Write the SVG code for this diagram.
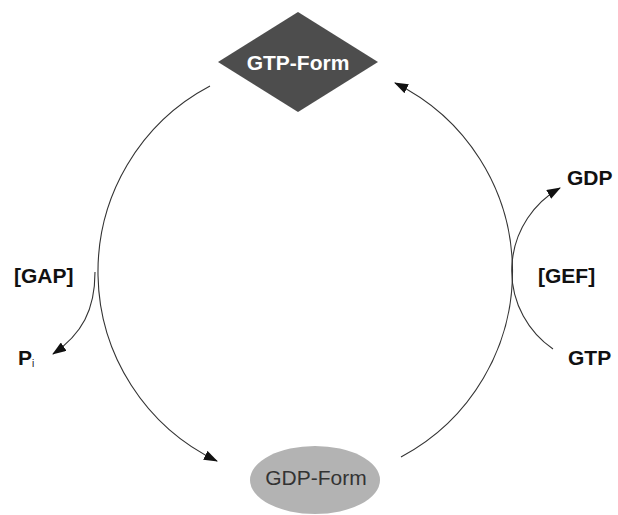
<svg xmlns="http://www.w3.org/2000/svg" width="618" height="515" viewBox="0 0 618 515">
<style>
.lbl{font-family:"Liberation Sans",Arial,sans-serif;font-weight:bold;font-size:21px;fill:#111}
.conn{fill:none;stroke:#333;stroke-width:1.1}
</style>
<defs>
<marker id="ah" viewBox="0 0 14 10" refX="13" refY="5" markerWidth="14" markerHeight="10" markerUnits="userSpaceOnUse" orient="auto">
<path d="M0,0 L14,5 L0,10 Z" fill="#111"/>
</marker>
</defs>
<rect width="618" height="515" fill="#fff"/>
<g id="connectors">
<path class="conn" d="M210,86 A210,210 0 0 0 217,461" marker-end="url(#ah)"/>
<path class="conn" d="M401,457 A210,210 0 0 0 395,83" marker-end="url(#ah)"/>
<path class="conn" d="M95,272 C95,310 82,334 53,354" marker-end="url(#ah)"/>
<path class="conn" d="M553,349 A95,95 0 0 1 560,188" marker-end="url(#ah)"/>
</g>
<g id="gtp-form">
<polygon points="218,62 298,12 378,62 298,112" fill="#4d4d4d"/>
<text x="298" y="70" text-anchor="middle" class="lbl" style="fill:#fff">GTP-Form</text>
</g>
<g id="gdp-form">
<ellipse cx="315" cy="480" rx="65" ry="34" fill="#b3b3b3"/>
<text x="316" y="485" text-anchor="middle" style="font-family:'Liberation Sans',Arial,sans-serif;font-size:21px;fill:#333">GDP-Form</text>
</g>
<g id="gap"><text x="14" y="283" class="lbl">[GAP]</text></g>
<g id="pi"><text x="18" y="365" class="lbl">P<tspan style="font-size:10px;font-weight:normal" dy="2">i</tspan></text></g>
<g id="gdp"><text x="567" y="185" class="lbl">GDP</text></g>
<g id="gef"><text x="538" y="283" class="lbl">[GEF]</text></g>
<g id="gtp"><text x="568" y="365" class="lbl">GTP</text></g>
</svg>
